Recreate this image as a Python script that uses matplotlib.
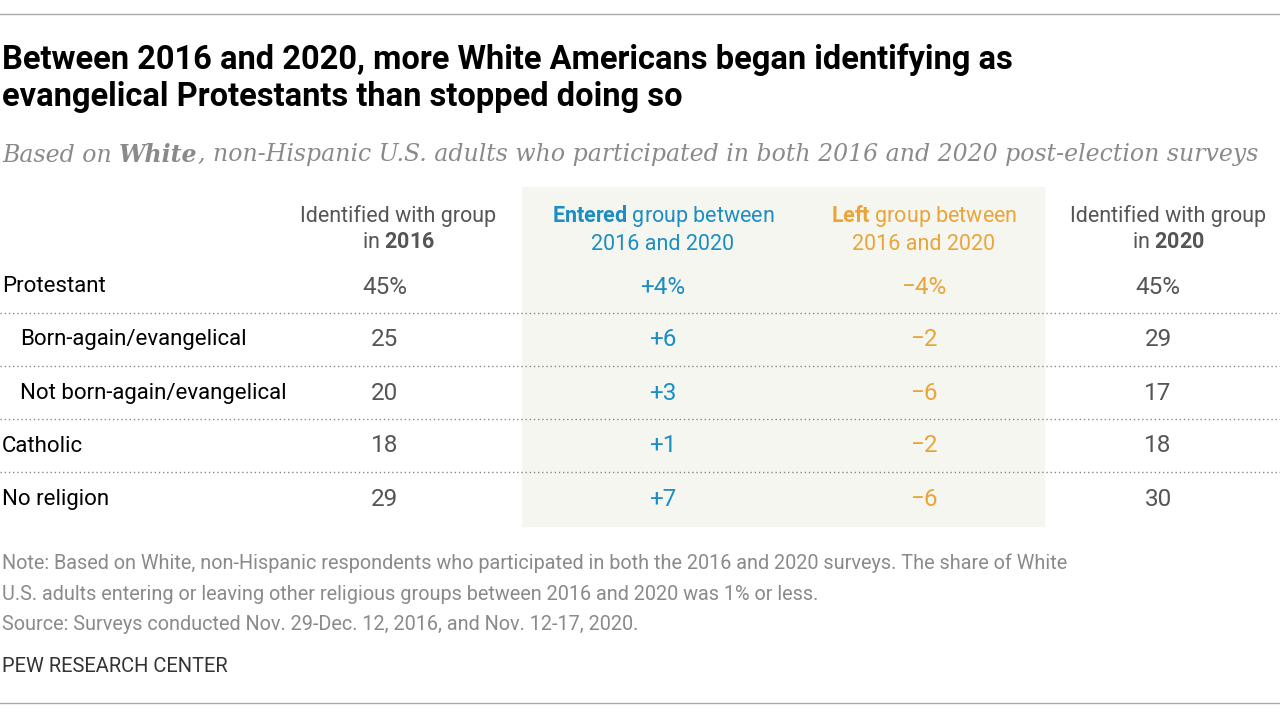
import matplotlib.pyplot as plt
from matplotlib.patches import Rectangle

rows = ["Protestant", "Born-again/evangelical", "Not born-again/evangelical", "Catholic", "No religion"]
indent = [False, True, True, False, False]
share_2016 = ["45%", "25", "20", "18", "29"]
entered = ["+4%", "+6", "+3", "+1", "+7"]
left = ["\u22124%", "\u22122", "\u22126", "\u22122", "\u22126"]
share_2020 = ["45%", "29", "17", "18", "30"]

W, H = 1280, 719
BLUE = "#1b8ec2"
ORANGE = "#eaa53a"
GRAY = "#555555"
LIGHT = "#8a8a8a"

plt.rcParams["mathtext.fontset"] = "custom"
plt.rcParams["mathtext.bf"] = "Roboto:bold"
plt.rcParams["mathtext.rm"] = "Roboto"

fig = plt.figure(figsize=(12.8, 7.19), dpi=100)
ax = fig.add_axes([0, 0, 1, 1])
ax.set_xlim(0, W)
ax.set_ylim(H, 0)
ax.axis("off")

ax.add_patch(Rectangle((522, 187), 522, 339, color="#f6f6f1", zorder=0))
ax.plot([0, W], [14, 14], color="#aaaaaa", lw=1)
ax.plot([0, W], [703, 703], color="#aaaaaa", lw=1)

ax.text(2, 78, "Between 2016 and 2020, more White Americans began identifying as\nevangelical Protestants than stopped doing so",
        fontsize=23.5, fontweight="bold", va="center", ha="left", linespacing=1.2, family="Roboto")

# subtitle in three runs so the bold word stays serif italic
renderer = fig.canvas.get_renderer()
sfont = dict(fontsize=17, style="italic", color=LIGHT, va="center", ha="left", family="DejaVu Serif")
parts = [("Based on ", "normal"), ("White", "bold"),
         (", non-Hispanic U.S. adults who participated in both 2016 and 2020 post-election surveys", "normal")]
x = 2
for txt, wt in parts:
    t = ax.text(x, 155, txt, fontweight=wt, **sfont)
    bb = t.get_window_extent(renderer)
    x += bb.width
# scale down if too wide
if x > 1276:
    pass

hfont = dict(fontsize=15.5, va="center", ha="center", family="Roboto")
cols = [398, 663, 924, 1168]
ax.text(cols[0], 229, "Identified with group\nin $\\bf{2016}$", color=GRAY, linespacing=1.35, **hfont)
ax.text(cols[1], 229, "$\\bf{Entered}$ group between\n2016 and 2020", color=BLUE, linespacing=1.35, **hfont)
ax.text(cols[2], 229, "$\\bf{Left}$ group between\n2016 and 2020", color=ORANGE, linespacing=1.35, **hfont)
ax.text(cols[3], 229, "Identified with group\nin $\\bf{2020}$", color=GRAY, linespacing=1.35, **hfont)

for i, name in enumerate(rows):
    y = 287 + i * 53
    ax.text(20 if indent[i] else 2, y, name, ha="left", color="black", fontsize=16, va="center", family="Roboto")
    ax.text(385, y, share_2016[i], ha="center", color=GRAY, fontsize=17.5, va="center", family="Roboto")
    ax.text(cols[1], y, entered[i], ha="center", color=BLUE, fontsize=17.5, va="center", family="Roboto")
    ax.text(cols[2], y, left[i], ha="center", color=ORANGE, fontsize=17.5, va="center", family="Roboto")
    ax.text(1158, y, share_2020[i], ha="center", color=GRAY, fontsize=17.5, va="center", family="Roboto")
    if i < len(rows) - 1:
        ax.plot([0, W], [y + 26, y + 26], color="#888888", lw=1, ls=(0, (1, 2)))

nfont = dict(fontsize=14.3, color=LIGHT, ha="left", va="center", family="Roboto")
ax.text(2, 563, "Note: Based on White, non-Hispanic respondents who participated in both the 2016 and 2020 surveys. The share of White", **nfont)
ax.text(2, 594, "U.S. adults entering or leaving other religious groups between 2016 and 2020 was 1% or less.", **nfont)
ax.text(2, 624, "Source: Surveys conducted Nov. 29-Dec. 12, 2016, and Nov. 12-17, 2020.", **nfont)
ax.text(2, 666, "PEW RESEARCH CENTER", fontsize=14.5, color="#333333", ha="left", va="center", family="Roboto")

fig.savefig("out.png", dpi=100)
